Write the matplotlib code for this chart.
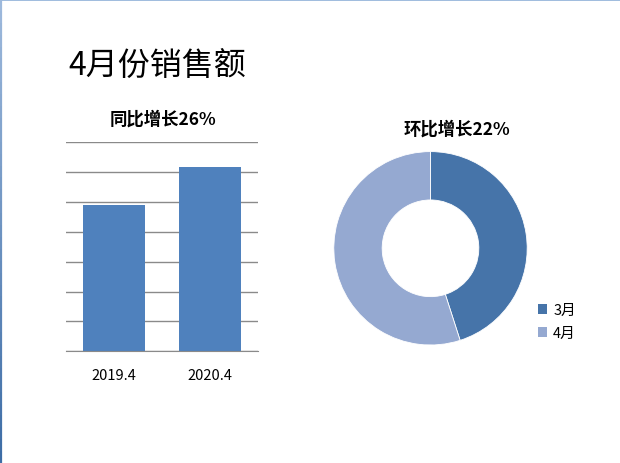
import numpy as np
import matplotlib
matplotlib.use("Agg")
import matplotlib.pyplot as plt
from matplotlib.patches import Patch
from matplotlib.collections import LineCollection

plt.rcParams['font.family'] = ['Noto Sans CJK SC', 'DejaVu Sans']

# data
years = ['2019.4', '2020.4']
sales = [4.9, 6.18]
months = ['3月', '4月']
month_sales = [1.0, 1.22]

bar_color = '#4F81BD'
donut_colors = ['#4674A9', '#95A9D1']

W, H = 620, 464
fig = plt.figure(figsize=(W / 100, H / 100), dpi=100)


def box(left, top, right, bottom):
    # pixel box -> figure fraction
    return [left / W, (H - bottom) / H, (right - left) / W, (bottom - top) / H]


fig.text(68 / W, 1 - 66 / H, '4月份销售额', fontsize=23, va='center', ha='left')

# bar chart
ax = fig.add_axes(box(66, 143.3, 258.3, 352.3))
x = np.arange(len(years))
ax.bar(x, sales, width=0.64, color=bar_color, zorder=3)
ax.set_xlim(-0.5, 1.5)
ax.set_ylim(0, 7)
ax.set_yticks(np.arange(0, 8))
ax.yaxis.grid(True, color='#8a8a8a', lw=1)
ax.tick_params(axis='y', left=False, labelleft=False)
ax.tick_params(axis='x', length=0, pad=12, labelsize=10.5)
ax.set_xticks(x)
ax.set_xticklabels(years)
for s in ax.spines.values():
    s.set_visible(False)
ax.spines['bottom'].set_visible(True)
ax.spines['bottom'].set_color('#8a8a8a')
ax.spines['bottom'].set_zorder(4)
fig.text(162.5 / W, 1 - 120 / H, '同比增长26%', fontsize=12.5, fontweight='bold',
         ha='center', va='center')

# donut
r = 96.7
cx, cy = 430.5, 249.3
ax2 = fig.add_axes(box(cx - r, cy - r, cx + r, cy + r))
wedges, _ = ax2.pie(month_sales, colors=donut_colors, startangle=90, counterclock=False,
                    radius=1, wedgeprops=dict(width=0.5, edgecolor='white', linewidth=0.6))
ax2.set_xlim(-1, 1)
ax2.set_ylim(-1, 1)
ax2.set_aspect('equal')
fig.text(456.7 / W, 1 - 130 / H, '环比增长22%', fontsize=12.5, fontweight='bold',
         ha='center', va='center')

handles = [Patch(facecolor=c, edgecolor='none') for c in donut_colors]
fig.legend(handles, months, loc='upper left', bbox_to_anchor=(532 / W, 1 - 298 / H),
           frameon=False, fontsize=10.5, handlelength=0.65, handleheight=0.65,
           handletextpad=0.4, labelspacing=0.65, borderaxespad=0)

# slide frame: top line and shaded left line
fig.add_artist(plt.Line2D([0, 1], [1 - 0.5 / H, 1 - 0.5 / H], transform=fig.transFigure,
                          color='#8FB0D8', lw=1.2))
ys = np.linspace(1, 0, 40)
segs = [[(0.8 / W, ys[i]), (0.8 / W, ys[i + 1])] for i in range(len(ys) - 1)]
cols = plt.matplotlib.colors.LinearSegmentedColormap.from_list('b', ['#9DB9DC', '#3E6DA6'])(
    np.linspace(0, 1, len(segs)))
fig.add_artist(LineCollection(segs, colors=cols, lw=1.6, transform=fig.transFigure))

fig.savefig('out.png', dpi=100)
